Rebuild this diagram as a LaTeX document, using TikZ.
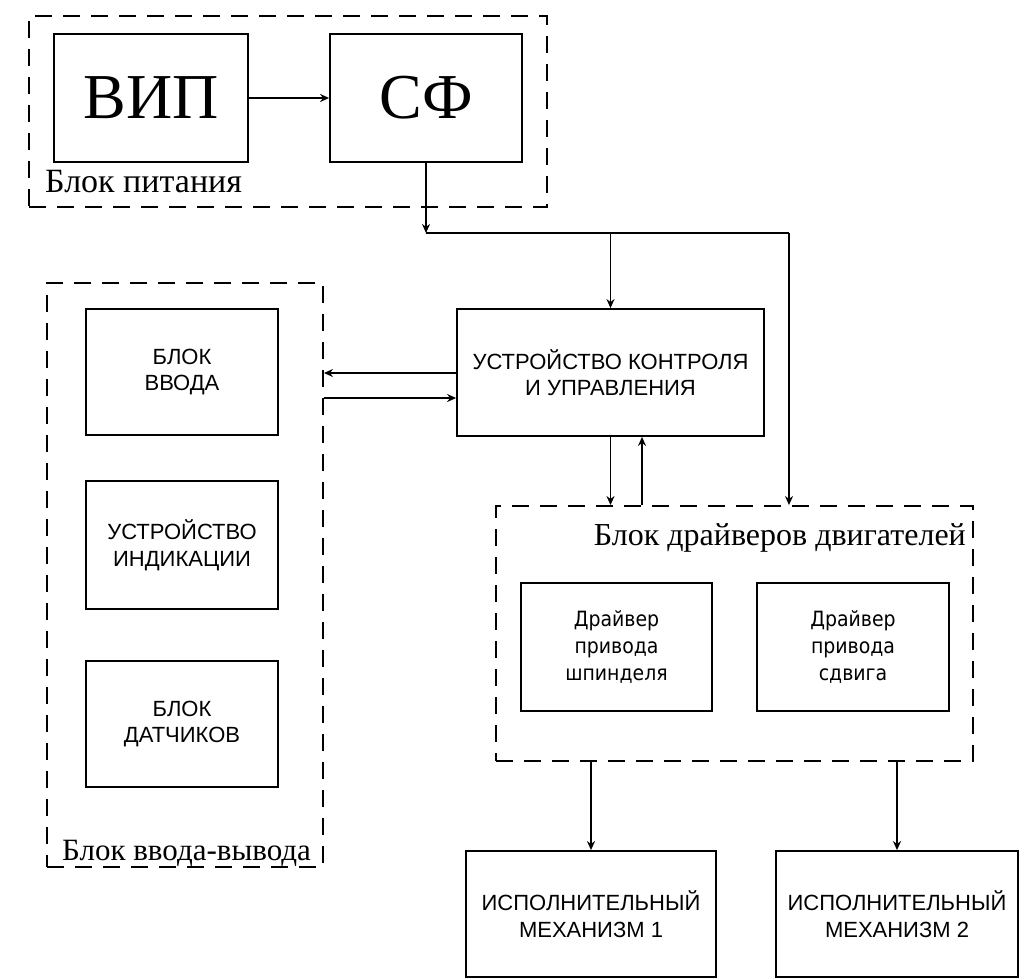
\documentclass[tikz,border=0pt]{standalone}
\usepackage{fontspec}
\setmainfont{Liberation Serif}
\setsansfont{Liberation Sans}
\newfontfamily\drvfont[FakeStretch=0.9]{DejaVu Sans}
\usetikzlibrary{arrows.meta}

\begin{document}
\begin{tikzpicture}[x=1pt,y=-1pt,
  box/.style={draw, line width=1.8pt, inner sep=0pt, align=center,
    font=\sffamily\fontsize{22}{26.5}\selectfont},
  bigbox/.style={draw, line width=1.8pt, inner sep=0pt,
    font=\rmfamily\fontsize{64}{70}\selectfont},
  drvbox/.style={draw, line width=1.8pt, inner sep=0pt, align=center,
    font=\drvfont\fontsize{21}{27}\selectfont},
  group/.style={draw, line width=1.9pt, dash pattern=on 17pt off 11pt, inner sep=0pt},
  grouplabel/.style={inner sep=0pt, font=\rmfamily\fontsize{#1}{#1}\selectfont},
  wire/.style={line width=1.7pt},
  arr/.style={line width=1.7pt, -{Stealth[length=9pt,width=8pt]}}]
\useasboundingbox (0,0) rectangle (1020,979);

% power supply group
\node[group, minimum width=518pt, minimum height=191pt] (pwr) at (288,111.5) {};
\node[bigbox, minimum width=194pt, minimum height=128pt] (vip) at (151,98) {ВИП};
\node[bigbox, minimum width=192pt, minimum height=128pt] (sf) at (426,98) {СФ};
\node[grouplabel=34, anchor=base west] (pwrlbl) at (45,193) {Блок питания};

% control unit
\node[box, minimum width=307pt, minimum height=127pt] (uku) at (610.5,372.5)
  {УСТРОЙСТВО КОНТРОЛЯ\\И УПРАВЛЕНИЯ};

% input/output group
\node[group, minimum width=276pt, minimum height=584pt] (io) at (185,575) {};
\node[box, minimum width=192pt, minimum height=126pt] (vvod) at (182,372) {БЛОК\\ВВОДА};
\node[box, minimum width=192pt, minimum height=128pt] (ind) at (182,545) {УСТРОЙСТВО\\ИНДИКАЦИИ};
\node[box, minimum width=192pt, minimum height=126pt] (dat) at (182,724) {БЛОК\\ДАТЧИКОВ};
\node[grouplabel=31, anchor=base west] (iolbl) at (62,860) {Блок ввода-вывода};

% motor drivers group
\node[group, minimum width=477pt, minimum height=255pt] (drv) at (734.5,633.5) {};
\node[grouplabel=32, anchor=base east] (drvlbl) at (966,545) {Блок драйверов двигателей};
\node[drvbox, minimum width=191pt, minimum height=128pt] (d1) at (616.5,647)
  {Драйвер\\привода\\шпинделя};
\node[drvbox, minimum width=192pt, minimum height=128pt] (d2) at (853,647)
  {Драйвер\\привода\\сдвига};

% actuators
\node[box, minimum width=250pt, minimum height=126pt] (im1) at (591,914)
  {ИСПОЛНИТЕЛЬНЫЙ\\МЕХАНИЗМ 1};
\node[box, minimum width=242pt, minimum height=126pt] (im2) at (897,914)
  {ИСПОЛНИТЕЛЬНЫЙ\\МЕХАНИЗМ 2};

% connections
\draw[arr] (vip.east) -- (sf.west);
\coordinate (bus) at (sf.south |- 0,233);
\coordinate (busR) at (789,233);
\draw[arr] (sf.south) -- (bus);
\draw[wire] (bus) -- (busR);
\draw[arr] (uku.north |- bus) -- (uku.north);
\draw[arr] (busR) -- (busR |- drv.north);
\draw[arr] (uku.south) -- (uku.south |- drv.north);
\draw[arr] (drv.north -| 642,0) -- (uku.south -| 642,0);
\draw[arr] (uku.west |- 0,373) -- (io.east |- 0,373);
\draw[arr] (io.east |- 0,398) -- (uku.west |- 0,398);
\draw[arr] (im1.north |- drv.south) -- (im1.north);
\draw[arr] (im2.north |- drv.south) -- (im2.north);
\end{tikzpicture}
\end{document}
